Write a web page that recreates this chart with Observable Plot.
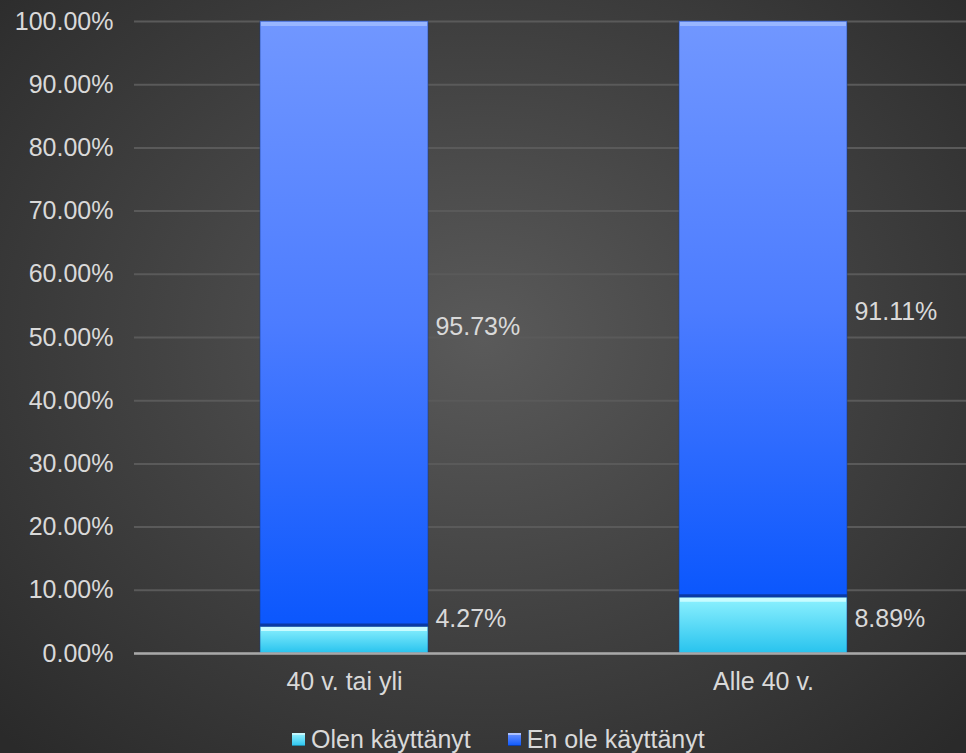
<!DOCTYPE html>
<html>
<head>
<meta charset="utf-8">
<script src="https://cdn.jsdelivr.net/npm/d3@7"></script>
<script src="https://cdn.jsdelivr.net/npm/@observablehq/plot@0.6"></script>
<style>
  html, body { margin: 0; padding: 0; }
  body {
    width: 966px; height: 753px; overflow: hidden; position: relative;
    background: radial-gradient(ellipse 70% 75% at 50% 45%, #5a5a5a 0%, #444444 45%, #2a2a2a 100%);
    font-family: "Liberation Sans", Arial, sans-serif;
  }
  #chart { position: absolute; left: 0; top: 0; }
  #legend {
    position: absolute; left: 292px; top: 723px; height: 32px;
    display: flex; align-items: center; gap: 37px;
    color: #d9d9d9; font-size: 25px; white-space: nowrap;
  }
  .item { display: flex; align-items: center; gap: 6px; }
  .sw { width: 13px; height: 13px; box-shadow: inset 0 2px 0 rgba(255,255,255,0.45), inset 0 -1px 0 rgba(0,0,0,0.3); }
</style>
</head>
<body>
<div id="chart"></div>
<div id="legend"></div>
<script>
const categories = ["40 v. tai yli", "Alle 40 v."];
const seriesNames = ["Olen käyttänyt", "En ole käyttänyt"];
const olenValues = [4.27, 8.89];
const enOleValues = [95.73, 91.11];
const yTicks = [0, 10, 20, 30, 40, 50, 60, 70, 80, 90, 100];
const seriesFills = ["url(#gOlen)", "url(#gEn)"];
const swatchCss = [
  "linear-gradient(#9af4ff, #2ac4ef)",
  "linear-gradient(#6f94ff, #0c58fc)"
];

const rows = [];
categories.forEach((c, i) => {
  rows.push({cat: c, series: seriesNames[0], value: olenValues[i], base: 0});
  rows.push({cat: c, series: seriesNames[1], value: enOleValues[i], base: olenValues[i]});
});
const labels = rows.map(r => ({
  cat: r.cat,
  y: Math.max(r.base + r.value / 2, 6),
  text: r.value.toFixed(2) + "%"
}));
const tops = rows.map(r => ({cat: r.cat, series: r.series, top: r.base + r.value}));
const blueBottoms = rows.filter(r => r.series === seriesNames[1]).map(r => ({cat: r.cat, y: r.base}));

const W = 966, mL = 134, mR = -7;
const step = (W - mR - mL) / 2;
const bw = step * (1 - 0.6);

const svg = Plot.plot({
  width: W, height: 715,
  marginLeft: mL, marginRight: mR, marginTop: 21, marginBottom: 62,
  style: {background: "transparent", color: "#d9d9d9", fontFamily: "'Liberation Sans', Arial, sans-serif", fontSize: "25px", overflow: "visible"},
  x: {domain: categories, paddingInner: 0.6, paddingOuter: 0.3, label: null},
  y: {domain: [0, 100], label: null},
  color: {domain: seriesNames, range: seriesFills},
  marks: [
    Plot.gridY(yTicks, {stroke: "#5a5a5a", strokeOpacity: 1, strokeWidth: 2}),
    Plot.barY(rows, {x: "cat", y: "value", fill: "series", z: "series", stroke: "#163a8c", strokeOpacity: 0.55, strokeWidth: 1}),
    Plot.tickY(tops, {x: "cat", y: "top", stroke: d => d.series === seriesNames[0] ? "#c8fcff" : "#98b6ff", strokeWidth: 4, dy: 2.5, inset: 1}),
    Plot.tickY(blueBottoms, {x: "cat", y: "y", stroke: "#0a3aa4", strokeWidth: 3, dy: -1.5}),
    Plot.ruleY([0], {stroke: "#a8a8a8", strokeWidth: 2.5}),
    Plot.axisY(yTicks, {tickSize: 0, tickPadding: 21, tickFormat: d => d.toFixed(2) + "%", fill: "#d9d9d9", fontSize: 25, label: null}),
    Plot.axisX({tickSize: 0, tickPadding: 19, fill: "#d9d9d9", fontSize: 25, label: null}),
    Plot.text(labels, {x: "cat", y: "y", text: "text", textAnchor: "start", dx: bw / 2 + 7, dy: 3, fill: "#d9d9d9", fontSize: 25})
  ]
});

svg.insertAdjacentHTML("afterbegin", `
<defs>
  <linearGradient id="gEn" x1="0" y1="0" x2="0" y2="1">
    <stop offset="0" stop-color="#7197ff"/>
    <stop offset="0.5" stop-color="#4c7cff"/>
    <stop offset="1" stop-color="#0b57fd"/>
  </linearGradient>
  <linearGradient id="gOlen" x1="0" y1="0" x2="0" y2="1">
    <stop offset="0" stop-color="#8ff2ff"/>
    <stop offset="1" stop-color="#28c3ee"/>
  </linearGradient>
</defs>`);
document.getElementById("chart").appendChild(svg);

const legend = document.getElementById("legend");
seriesNames.forEach((name, i) => {
  const item = document.createElement("div");
  item.className = "item";
  const sw = document.createElement("div");
  sw.className = "sw";
  sw.style.background = swatchCss[i];
  const t = document.createElement("span");
  t.textContent = name;
  item.appendChild(sw);
  item.appendChild(t);
  legend.appendChild(item);
});
</script>
</body>
</html>
